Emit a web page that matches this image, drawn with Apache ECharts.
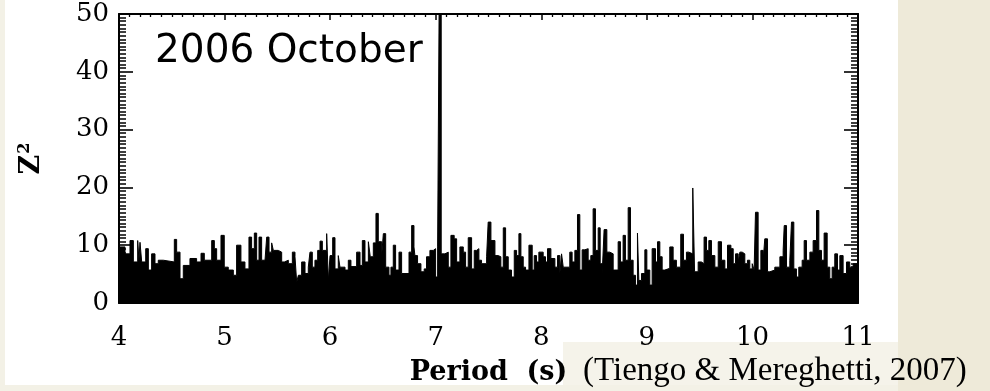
<!DOCTYPE html>
<html>
<head>
<meta charset="utf-8">
<script src="https://cdn.jsdelivr.net/npm/echarts@6/dist/echarts.min.js"></script>
<style>
  html, body { margin: 0; padding: 0; width: 990px; height: 391px; overflow: hidden; background: #EEEAD9; }
  #paper { position: absolute; left: 5px; top: 0; width: 893px; height: 385px; background: #ffffff; }
  #strip { position: absolute; left: 0; top: 385px; width: 898px; height: 6px; background: #F3F1E6; }
  #lstrip { position: absolute; left: 0; top: 0; width: 5px; height: 391px; background: #F3F1E6; }
  #citebox { position: absolute; left: 563px; top: 342px; width: 335px; height: 43px; background: #F5F3EA; }
  #chart { position: absolute; left: 0; top: 0; width: 990px; height: 391px; }
</style>
</head>
<body>
<div id="paper"></div>
<div id="strip"></div>
<div id="lstrip"></div>
<div id="citebox"></div>
<div id="chart"></div>
<script>
// Period (s) at which each step of the periodogram begins, and its Z^2 value
const periods = [
  4.000,4.057,4.104,4.136,4.177,4.189,4.199,4.215,4.253,4.278,4.309,4.341,4.372,4.420,4.524,4.546,4.578,4.609,4.672,4.735,4.777,4.808,4.878,4.903,4.925,4.966,4.997,5.035,5.083,5.114,5.155,5.193,5.231,5.256,5.282,5.304,5.326,5.351,
  5.383,5.399,5.421,5.446,5.462,5.509,5.541,5.566,5.604,5.642,5.667,5.683,5.699,5.730,5.762,5.793,5.809,5.831,5.856,5.882,5.904,5.926,5.967,5.983,5.999,6.024,6.046,6.077,6.093,6.141,6.172,6.197,6.251,6.283,6.305,6.330,6.362,6.380,6.409,6.434,6.456,6.488,6.504,6.526,6.557,6.576,6.598,6.620,6.652,6.677,6.747,6.772,6.794,
  6.803,6.828,6.860,6.891,6.913,6.945,6.977,6.999,7.018,7.032,7.052,7.087,7.119,7.144,7.175,7.198,7.229,7.261,7.283,7.308,7.340,7.365,7.387,7.409,7.434,7.482,7.497,7.523,7.561,7.592,7.617,7.640,7.662,7.687,7.718,7.744,7.766,7.788,7.807,7.829,7.851,7.883,7.914,7.933,7.955,7.977,8.018,8.040,8.059,8.091,8.129,8.154,8.176,8.192,8.208,
  8.223,8.270,8.292,8.318,8.343,8.365,8.387,8.412,8.444,8.469,8.491,8.513,8.539,8.558,8.577,8.595,8.621,8.649,8.681,8.728,8.750,8.775,8.797,8.823,8.845,8.870,8.892,8.911,8.924,8.949,8.981,9.000,9.028,9.050,9.082,9.101,9.123,9.145,9.170,9.217,9.249,9.280,9.321,9.347,9.375,9.397,9.435,9.452,9.486,9.517,9.542,9.565,9.587,9.612,
  9.644,9.676,9.707,9.739,9.764,9.796,9.818,9.840,9.865,9.881,9.903,9.928,9.953,9.975,9.998,10.016,10.029,10.054,10.080,10.102,10.117,10.143,10.165,10.212,10.260,10.291,10.301,10.323,10.354,10.370,10.392,10.417,10.439,10.471,10.490,10.512,10.544,10.575,10.607,10.629,10.654,10.679,10.708,10.733,10.755,10.780,10.806,10.828,10.859,10.891,10.922,10.954,11.000
];
const z2 = [
  9.7,8.5,10.8,7.1,10.8,7.5,10.5,7.1,9.4,5.7,8.5,6.8,7.4,7.1,11.0,8.8,4.2,6.5,7.7,7.1,8.6,7.4,10.8,9.4,7.4,11.7,6.2,5.7,4.8,10.0,7.1,5.9,11.4,9.4,12.1,7.4,11.4,7.4,
  7.7,11.4,8.8,10.4,9.1,8.8,7.1,7.4,6.8,8.8,8.0,3.6,4.8,7.1,5.1,6.2,8.8,6.2,7.4,9.1,10.7,9.1,12.0,3.9,8.2,11.3,5.9,8.2,6.2,5.7,7.4,6.3,8.8,6.5,10.8,7.1,10.6,8.0,10.4,15.5,10.6,8.2,12.0,6.2,4.8,6.2,10.0,5.7,8.8,5.1,8.8,13.4,9.7,
  8.2,6.8,5.4,5.9,8.0,9.1,9.4,4.5,9.7,50,8.5,8.8,6.2,11.7,11.1,7.1,9.7,8.8,6.2,11.3,5.9,9.1,9.4,7.4,6.8,8.0,14.0,10.8,8.2,8.0,6.2,13.0,8.0,5.7,4.5,9.1,8.2,12.0,8.0,6.2,5.7,10.0,5.7,8.2,7.1,8.8,8.0,7.1,9.4,7.7,6.2,8.2,5.1,8.5,6.2,
  6.2,8.8,7.1,9.1,15.3,5.7,9.2,9.4,7.4,8.2,16.3,9.1,13.0,6.8,5.1,12.7,8.8,8.5,5.7,10.6,7.1,11.7,7.4,16.5,7.4,4.8,3.1,12.1,3.9,5.1,9.2,5.7,3.1,9.4,7.1,10.6,8.0,5.7,6.0,9.7,7.4,6.2,11.9,7.4,8.8,8.5,19.9,5.4,7.1,6.8,11.4,9.1,10.8,8.2,
  6.2,10.6,7.4,5.9,10.0,9.4,6.8,8.5,7.1,8.8,8.5,6.8,7.4,5.9,6.8,5.7,15.7,5.7,9.1,7.4,11.1,5.4,5.7,6.2,8.0,9.1,13.4,6.2,7.4,14.0,5.9,4.5,6.2,7.4,10.8,7.4,8.8,10.8,16.0,9.1,7.4,12.1,6.2,4.2,6.2,8.5,5.7,8.2,5.1,7.1,6.2,6.8,6.8
];
const xTicks = { min: 4, max: 11, step: 1 };
const yTicks = { min: 0, max: 50, step: 10 };
const titleText = '2006 October';
const xName = 'Period  (s)';
const citation = '(Tiengo & Mereghetti, 2007)';

const seriesData = periods.map((p, i) => [p, z2[i]]);

const serif = 'DejaVu Serif';
const chart = echarts.init(document.getElementById('chart'), null, { renderer: 'canvas' });

const axisLineStyle = { color: '#000', width: 2 };
const tickLabelStyle = { fontFamily: serif, fontWeight: 'normal', fontSize: 26, color: '#000' };
function xAxisCfg(pos, labels) {
  return {
    type: 'value', position: pos, min: xTicks.min, max: xTicks.max, interval: xTicks.step,
    axisLine: { show: true, onZero: false, lineStyle: axisLineStyle },
    axisTick: { show: true, inside: true, length: 6, lineStyle: { color: '#000', width: 1.5 } },
    minorTick: { show: true, splitNumber: 10, length: 3, lineStyle: { color: '#000', width: 1.3 } },
    splitLine: { show: false },
    axisLabel: labels ? Object.assign({ show: true, margin: 22 }, tickLabelStyle) : { show: false }
  };
}
function yAxisCfg(pos, labels) {
  return {
    type: 'value', position: pos, min: yTicks.min, max: yTicks.max, interval: yTicks.step,
    axisLine: { show: true, onZero: false, lineStyle: axisLineStyle },
    axisTick: { show: true, inside: true, length: 14, lineStyle: { color: '#000', width: 1.6 } },
    minorTick: { show: true, splitNumber: 16, length: 7, lineStyle: { color: '#000', width: 1.5 } },
    splitLine: { show: false },
    axisLabel: labels ? Object.assign({ show: true, margin: 10 }, tickLabelStyle) : { show: false }
  };
}

const xb = xAxisCfg('bottom', true);
xb.name = xName;
xb.nameLocation = 'middle';
xb.nameGap = 56;
xb.nameTextStyle = { fontFamily: serif, fontWeight: 'bold', fontSize: 27, color: '#000' };
const yl = yAxisCfg('left', true);
yl.name = '{z|Z}{s|2}';
yl.nameLocation = 'middle';
yl.nameRotate = 90;
yl.nameGap = 72;
yl.nameTextStyle = {
  color: '#000',
  rich: {
    z: { fontFamily: serif, fontWeight: 'bold', fontSize: 27, color: '#000' },
    s: { fontFamily: serif, fontWeight: 'bold', fontSize: 16, color: '#000', padding: [0, 0, 14, 1] }
  }
};

chart.setOption({
  backgroundColor: 'transparent',
  animation: false,
  grid: { left: 119, right: 132, top: 14, bottom: 88, containLabel: false },
  xAxis: [xb, xAxisCfg('top', false)],
  yAxis: [yl, yAxisCfg('right', false)],
  series: [{
    type: 'line',
    xAxisIndex: 0, yAxisIndex: 0,
    data: seriesData,
    step: 'end',
    symbol: 'none',
    clip: true,
    lineStyle: { color: '#000', width: 1 },
    areaStyle: { color: '#000', opacity: 1 },
    z: 1
  }],
  graphic: [
    { type: 'text', left: 155, top: 32, style: { text: titleText, fontFamily: 'DejaVu Sans', fontSize: 39, fill: '#000' } },
    { type: 'text', left: 583, top: 355, style: { text: citation, fontFamily: 'Liberation Serif', fontSize: 33, fill: '#000' } }
  ]
});
</script>
</body>
</html>
